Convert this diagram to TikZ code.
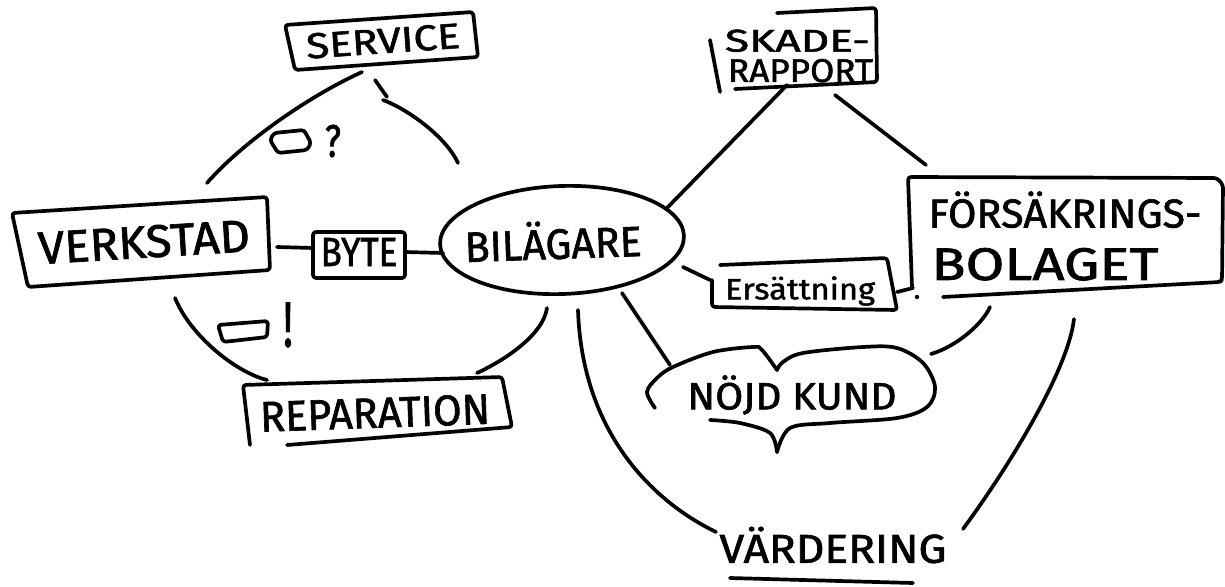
\documentclass[tikz,border=0pt]{standalone}
\usepackage{fontspec}
\setmainfont{Fira Sans}[FakeBold=1.5]
\usepackage{graphicx}
\usetikzlibrary{calc,shapes.geometric}
\tikzset{
  ln/.style={line width=3.7pt, line cap=round, line join=round},
  lbl/.style={inner sep=0pt, outer sep=0pt, font=\fontsize{10}{10}\selectfont},
  hbox/.style={ln, rounded corners=3pt},
}
\newcommand{\rs}[3]{\resizebox{#1pt}{#2pt}{#3}}
\newcommand{\twolines}[3]{\vbox{\offinterlineskip\hbox{#1}\vskip#3pt\hbox{#2}}}
\begin{document}
\begin{tikzpicture}[x=1pt,y=1pt]
\useasboundingbox (0,0) rectangle (1225,-586);

% ---------- nodes ----------
\node[lbl, rotate=4] (serv) at (383,-41) {\rs{154}{25}{SERVICE}};
\node[lbl] (skade) at (799,-56) {\twolines{\rs{145}{22}{SKADE-}}{\hspace*{3pt}\rs{145}{23}{RAPPORT}}{7}};
\node[lbl, rotate=3.5] (verk) at (144,-242) {\rs{212}{32}{VERKSTAD}};
\node[lbl] (byte) at (359,-252) {\rs{77}{28}{BYTE}};
\node[ln, draw, ellipse, inner sep=0pt, minimum width=244pt, minimum height=108pt, rotate=2, font=\fontsize{10}{10}\selectfont]
  (bil) at (562,-240) {\hspace*{-18pt}\rs{177}{38}{BILÄGARE}};
\node[lbl] (fors) at (1065,-236) {\twolines{\rs{273}{36}{FÖRSÄKRINGS-}}{\hspace*{3pt}\rs{227}{32}{BOLAGET}}{20}};
\node[lbl] (ers) at (800,-291) {\rs{150}{23}{Ersättning}};
\node[lbl] (nojd) at (792,-395) {\rs{209}{34}{NÖJD KUND}};
\node[lbl, rotate=2] (rep) at (375,-413) {\rs{230}{30}{REPARATION}};
\node[lbl] (vard) at (833,-545) {\rs{227}{36}{VÄRDERING}};
\node[lbl] (q) at (333,-141) {\rs{16}{32}{?}};
\node[lbl] (ex) at (288,-325) {\rs{10}{44}{!}};

% ---------- hand drawn frames ----------
\begin{scope}[shift={(serv)}]
  \draw[hbox] (-98,16) -- (90,29) -- (95,-16) -- (-88,-29) -- cycle;
\end{scope}
\begin{scope}[shift={(skade)}]
  \draw[ln] (-89,16) -- (-79,-36);
  \draw[hbox] (-22,43) -- (77,48) -- (78,-26) -- (-64,-33);
\end{scope}
\begin{scope}[shift={(verk)}]
  \draw[hbox] (-132,29) -- (123,45) -- (126,-28) -- (-116,-45) -- cycle;
\end{scope}
\begin{scope}[shift={(byte)}]
  \draw[hbox] (-46,20) -- (46,20) -- (46,-26) -- (-46,-26) -- cycle;
\end{scope}
\begin{scope}[shift={(fors)}]
  \draw[hbox] (-153,-51) -- (-157,59) -- (152,58) -- (158,51) -- (157,-44) -- (155,-46) -- (-122,-61);
\end{scope}
\begin{scope}[shift={(ers)}]
  \draw[hbox] (-80,26) -- (87,33) -- (97,-19) -- (-88,-16) -- (-88,11);
\end{scope}
\begin{scope}[shift={(rep)}]
  \draw[hbox] (-88,-32) -- (137,-14) -- (127,36) -- (-132,28) -- (-125,-32);
\end{scope}
\begin{scope}[shift={(nojd)}]
  \draw[ln] plot[smooth, tension=0.55] coordinates {(-137,-13) (-145,3) (-135,17) (-119,28) (-79,43) (-39,48) (-30,45) (-15,25)};
  \draw[ln] plot[smooth, tension=0.55] coordinates {(-15,25) (-9,33) (11,42) (71,48) (105,47) (131,32) (143,8) (135,-12) (105,-23) (38,-28) (-2,-33) (-15,-57)};
  \draw[ln] plot[smooth, tension=0.55] coordinates {(-15,-57) (-22,-38) (-52,-28) (-82,-25)};
\end{scope}
\begin{scope}[shift={(vard)}]
  \draw[ln] (-103,-33) -- (80,-38);
\end{scope}
% small sketch boxes
\draw[hbox] (274,-133) -- (304,-130) -- (311,-143) -- (307,-150) -- (278,-153) -- (270,-140) -- cycle;
\draw[hbox] (218,-325) -- (268,-321) -- (267,-337) -- (223,-342) -- cycle;

% ---------- connectors ----------
\draw[ln] ($(verk)+(63,59)$) .. controls +(33,38) and +(-57,-26) .. ($(serv)+(-21,-31)$);
\draw[ln] ($(serv)+(-8,-39)$) -- ++(12,-17);
\draw[ln] ($(serv)+(0,-59)$) .. controls +(22,-8) and +(-13,28) .. ($(bil)+(-104,77)$);
\draw[ln] ($(verk)+(133,-5)$) -- ($(byte)+(-46,4)$);
\draw[ln] ($(byte)+(46,0)$) -- ($(bil)+(-119,-13)$);
\draw[ln] ($(verk)+(31,-56)$) .. controls +(15,-37) and +(-32,8) .. ($(rep)+(-108,33)$);
\draw[ln] ($(bil)+(-15,-68)$) .. controls +(-4,-27) and +(28,13) .. ($(rep)+(102,40)$);
\draw[ln] ($(bil)+(105,32)$) -- ($(skade)+(-12,-29)$);
\draw[ln] ($(skade)+(36,-39)$) -- ($(fors)+(-139,71)$);
\draw[ln] ($(bil)+(121,-27)$) -- ($(ers)+(-90,11)$);
\draw[ln] ($(ers)+(97,-1)$) -- ($(fors)+(-152,-52)$);
\fill ($(fors)+(-148,-61)$) circle (2.2pt);
\draw[ln] ($(bil)+(60,-53)$) -- ($(nojd)+(-122,30)$);
\draw[ln] ($(fors)+(-75,-71)$) .. controls +(-8,-18) and +(24,7) .. ($(nojd)+(139,41)$);
\draw[ln] ($(bil)+(16,-70)$) .. controls +(4,-120) and +(-66,32) .. ($(vard)+(-117,13)$);
\draw[ln] ($(fors)+(9,-83)$) .. controls +(-6,-51) and +(47,64) .. ($(vard)+(130,16)$);
\end{tikzpicture}
\end{document}
